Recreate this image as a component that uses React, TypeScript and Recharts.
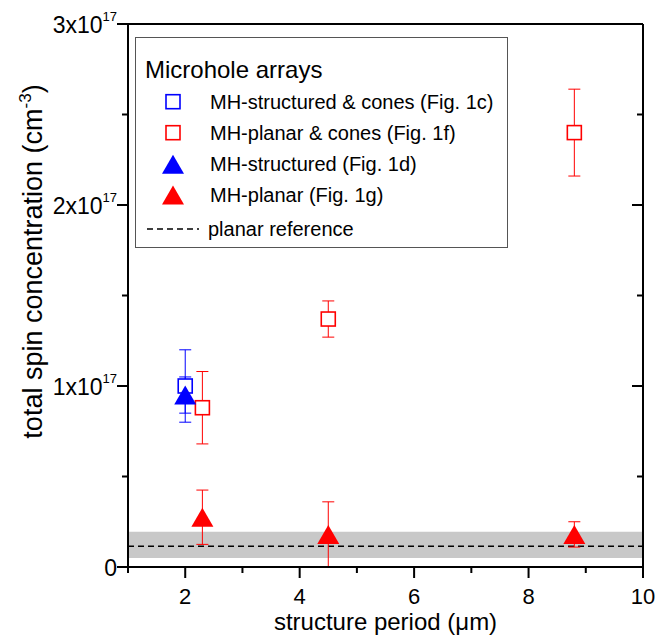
import { ScatterChart, Scatter, XAxis, YAxis, ErrorBar, ReferenceArea, ReferenceLine, Legend } from "recharts";

const FONT = '"Liberation Sans", Arial, Helvetica, sans-serif';

// x: structure period (µm), y: total spin concentration in units of 1e17 cm^-3
const mhStructConesPeriod = [2];
const mhStructConesSpin = [1.0];
const mhStructConesErr = [0.2];

const mhPlanarConesPeriod = [2.3, 4.5, 8.8];
const mhPlanarConesSpin = [0.88, 1.37, 2.4];
const mhPlanarConesErr = [0.2, 0.1, 0.24];

const mhStructPeriod = [2];
const mhStructSpin = [0.95];
const mhStructErr = [0.1];

const mhPlanarPeriod = [2.3, 4.5, 8.8];
const mhPlanarSpin = [0.275, 0.18, 0.18];
const mhPlanarErr = [0.15, 0.18, 0.07];

const planarRef = 0.115;
const planarRefBand = [0.05, 0.195];

const xTicks = [1, 2, 3, 4, 5, 6, 7, 8, 9, 10];
const yTicks = [0, 0.5, 1, 1.5, 2, 2.5, 3];

const legendTitle = "Microhole arrays";
const legendLabels = [
  "MH-structured & cones (Fig. 1c)",
  "MH-planar & cones (Fig. 1f)",
  "MH-structured (Fig. 1d)",
  "MH-planar (Fig. 1g)",
  "planar reference",
];

const BLUE = "#0000ff";
const RED = "#ff0000";

const toPoints = (xs: number[], ys: number[], es: number[]) =>
  xs.map((x, i) => ({ x, y: ys[i], err: es[i] }));

const square = (color: string) => (p: any) => (
  <rect x={p.cx - 7} y={p.cy - 7} width={14} height={14} fill="#fff" stroke={color} strokeWidth={1.6} />
);

const triangle = (color: string) => (p: any) => (
  <polygon
    points={`${p.cx - 11},${p.cy + 9.5} ${p.cx + 11},${p.cy + 9.5} ${p.cx},${p.cy - 9.5}`}
    fill={color}
  />
);

const isMajor = (v: number) => Math.abs(v - Math.round(v)) < 1e-9;

// tick marks drawn as small filled rects (2px wide)
function BottomTick({ x, y, payload }: any) {
  const major = payload.value % 2 === 0;
  const len = major ? 11 : 6;
  return (
    <g>
      <rect x={x - 1} y={y} width={2} height={len} fill="#000" />
      {major && (
        <text x={x} y={y + 37} textAnchor="middle" fontSize={22} fontFamily={FONT} fill="#000">
          {payload.value}
        </text>
      )}
    </g>
  );
}

function TopTick({ x, y, payload }: any) {
  const len = payload.value % 2 === 0 ? 11 : 6;
  return <rect x={x - 1} y={y} width={2} height={len} fill="#000" />;
}

function LeftTick({ x, y, payload }: any) {
  const v = payload.value;
  const major = isMajor(v);
  const len = major ? 11 : 6;
  return (
    <g>
      <rect x={x - len} y={y - 1} width={len} height={2} fill="#000" />
      {major && (
        <text x={x - 11} y={y + 9} textAnchor="end" fontSize={23} fontFamily={FONT} fill="#000">
          {v === 0 ? (
            "0"
          ) : (
            <>
              <tspan>{`${v}x10`}</tspan>
              <tspan dy={-12} fontSize={13}>17</tspan>
            </>
          )}
        </text>
      )}
    </g>
  );
}

function RightTick({ x, y, payload }: any) {
  const len = isMajor(payload.value) ? 11 : 6;
  return <rect x={x - len} y={y - 1} width={len} height={2} fill="#000" />;
}

const xTitle = ({ viewBox }: any) => (
  <text
    x={viewBox.x + viewBox.width / 2}
    y={viewBox.y + 63}
    textAnchor="middle"
    fontSize={24}
    fontFamily={FONT}
    fill="#000"
  >
    structure period (μm)
  </text>
);

const yTitle = ({ viewBox }: any) => {
  const cx = viewBox.x + 34;
  const cy = viewBox.y + viewBox.height / 2 - 34;
  return (
    <text
      x={cx}
      y={cy}
      transform={`rotate(-90, ${cx}, ${cy})`}
      textAnchor="middle"
      fontSize={27}
      fontFamily={FONT}
      fill="#000"
    >
      <tspan>total spin concentration (cm</tspan>
      <tspan dy={-11} fontSize={17}>-3</tspan>
      <tspan dy={11}>)</tspan>
    </text>
  );
};

function LegendBox() {
  const rows = [64.7, 95.7, 127.3, 158, 192];
  return (
    <svg width={373} height={211} style={{ display: "block" }}>
      <rect x={0.5} y={0.5} width={372} height={210} fill="#fff" stroke="#555" />
      <text x={10} y={41} fontSize={24} fontFamily={FONT} fill="#000">
        {legendTitle}
      </text>
      <rect x={31} y={rows[0] - 7} width={14} height={14} fill="#fff" stroke={BLUE} strokeWidth={1.6} />
      <rect x={31} y={rows[1] - 7} width={14} height={14} fill="#fff" stroke={RED} strokeWidth={1.6} />
      <polygon points={`27,${rows[2] + 9.5} 49,${rows[2] + 9.5} 38,${rows[2] - 9.5}`} fill={BLUE} />
      <polygon points={`27,${rows[3] + 9.5} 49,${rows[3] + 9.5} 38,${rows[3] - 9.5}`} fill={RED} />
      <line x1={12} y1={rows[4]} x2={64} y2={rows[4]} stroke="#000" strokeWidth={1.5} strokeDasharray="6 4" />
      {legendLabels.map((label, i) => (
        <text key={label} x={i === 4 ? 73 : 75} y={rows[i] + 7} fontSize={20} fontFamily={FONT} fill="#000">
          {label}
        </text>
      ))}
    </svg>
  );
}

export default function App() {
  return (
    <div style={{ position: "absolute", left: 0, top: 0, background: "#fff" }}>
      <ScatterChart width={669} height={642} margin={{ top: 23, right: 25, bottom: 15, left: 8 }}>
        <XAxis
          dataKey="x"
          type="number"
          domain={[1, 10]}
          ticks={xTicks}
          interval={0}
          tickSize={0}
          tickMargin={0}
          tickLine={false}
          tick={<BottomTick />}
          axisLine={{ stroke: "#000", strokeWidth: 2 }}
          height={60}
          allowDataOverflow
          label={xTitle}
        />
        <XAxis
          xAxisId="top"
          orientation="top"
          type="number"
          domain={[1, 10]}
          ticks={xTicks}
          interval={0}
          tickSize={0}
          tickMargin={0}
          tickLine={false}
          tick={<TopTick />}
          axisLine={{ stroke: "#000", strokeWidth: 2 }}
          height={1}
          allowDataOverflow
        />
        <YAxis
          dataKey="y"
          type="number"
          domain={[0, 3]}
          ticks={yTicks}
          interval={0}
          tickSize={0}
          tickMargin={0}
          tickLine={false}
          tick={<LeftTick />}
          axisLine={{ stroke: "#000", strokeWidth: 2 }}
          width={120}
          allowDataOverflow
          label={yTitle}
        />
        <YAxis
          yAxisId="right"
          orientation="right"
          type="number"
          domain={[0, 3]}
          ticks={yTicks}
          interval={0}
          tickSize={0}
          tickMargin={0}
          tickLine={false}
          tick={<RightTick />}
          axisLine={{ stroke: "#000", strokeWidth: 2 }}
          width={1}
          allowDataOverflow
        />
        <ReferenceArea y1={planarRefBand[0]} y2={planarRefBand[1]} fill="#c8c8c8" fillOpacity={1} stroke="none" />
        <ReferenceLine y={planarRef} stroke="#000" strokeWidth={1.5} strokeDasharray="6 4" />
        <Scatter
          name={legendLabels[0]}
          data={toPoints(mhStructConesPeriod, mhStructConesSpin, mhStructConesErr)}
          shape={square(BLUE)}
          isAnimationActive={false}
        >
          <ErrorBar dataKey="err" direction="y" width={6} stroke={BLUE} strokeWidth={1} />
        </Scatter>
        <Scatter
          name={legendLabels[1]}
          data={toPoints(mhPlanarConesPeriod, mhPlanarConesSpin, mhPlanarConesErr)}
          shape={square(RED)}
          isAnimationActive={false}
        >
          <ErrorBar dataKey="err" direction="y" width={6} stroke={RED} strokeWidth={1} />
        </Scatter>
        <Scatter
          name={legendLabels[2]}
          data={toPoints(mhStructPeriod, mhStructSpin, mhStructErr)}
          shape={triangle(BLUE)}
          isAnimationActive={false}
        >
          <ErrorBar dataKey="err" direction="y" width={6} stroke={BLUE} strokeWidth={1} />
        </Scatter>
        <Scatter
          name={legendLabels[3]}
          data={toPoints(mhPlanarPeriod, mhPlanarSpin, mhPlanarErr)}
          shape={triangle(RED)}
          isAnimationActive={false}
        >
          <ErrorBar dataKey="err" direction="y" width={6} stroke={RED} strokeWidth={1} />
        </Scatter>
        <Legend
          layout="vertical"
          align="center"
          verticalAlign="middle"
          wrapperStyle={{ left: 135, top: 37, width: 373, height: 211 }}
          content={() => <LegendBox />}
        />
      </ScatterChart>
    </div>
  );
}
